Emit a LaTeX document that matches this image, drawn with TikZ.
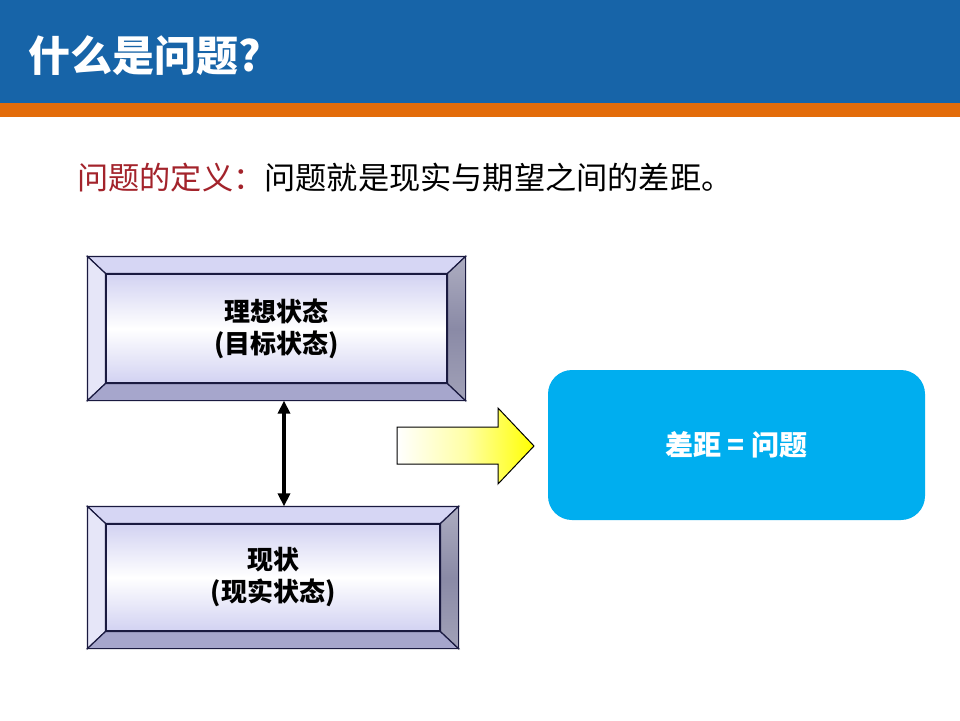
\documentclass[tikz,border=0pt]{standalone}
\usepackage{fontspec}
\setmainfont{Noto Sans CJK SC}
\usetikzlibrary{calc,arrows.meta}
\definecolor{hdrblue}{HTML}{1764A8}
\definecolor{hdrorange}{HTML}{E36C0A}
\definecolor{defred}{HTML}{A3232B}
\definecolor{gapblue}{HTML}{00AEEF}
\definecolor{bevline}{HTML}{1A1A40}
\definecolor{bevtop}{HTML}{D6D6F4}
\definecolor{bevleft}{HTML}{E6E6F8}
\definecolor{bevbot}{HTML}{A6A6CC}
\definecolor{bevright}{HTML}{8A8AA6}
\definecolor{facelav}{HTML}{D2D2F2}
\tikzset{
  face/.style={draw=bevline, line width=0.6pt, top color=facelav, bottom color=facelav, middle color=white,
    font=\bfseries\fontsize{13}{16}\selectfont, align=center, inner sep=0pt},
  bev/.style={draw=bevline, line width=0.6pt},
  gapbox/.style={fill=gapblue, rounded corners=12pt, text=white, font=\bfseries\fontsize{14}{17}\selectfont},
}
\newcommand\bevelbox[1]{%
  \coordinate (#1-onw) at ($(#1.north west)+(-18,-17)$);
  \coordinate (#1-one) at ($(#1.north east)+(18,-17)$);
  \coordinate (#1-ose) at ($(#1.south east)+(18,17)$);
  \coordinate (#1-osw) at ($(#1.south west)+(-18,17)$);
  \path[bev, fill=bevtop] (#1-onw) -- (#1-one) -- (#1.north east) -- (#1.north west) -- cycle;
  \path[bev, fill=bevleft] (#1-onw) -- (#1.north west) -- (#1.south west) -- (#1-osw) -- cycle;
  \path[bev, fill=bevbot] (#1-osw) -- (#1.south west) -- (#1.south east) -- (#1-ose) -- cycle;
  \shade[bev, top color=bevright!70!white, bottom color=bevright!80!white, middle color=bevright] (#1-one) -- (#1-ose) -- (#1.south east) -- (#1.north east) -- cycle;
}
\begin{document}
\begin{tikzpicture}[x=0.5pt,y=-0.5pt]
\useasboundingbox (0,0) rectangle (960,720);
\fill[white] (0,0) rectangle (960,720);
% header
\fill[hdrblue] (0,0) rectangle (960,103);
\fill[hdrorange] (0,103) rectangle (960,117);
\node[anchor=west, text=white, font=\bfseries\fontsize{21}{25}\selectfont, inner sep=0pt] (title) at (28,56) {什么是问题?};
% definition
\node[anchor=west, inner sep=0pt, font=\fontsize{15.6}{18}\selectfont] (def) at (77,178) {\textcolor{defred}{问题的定义：}问题就是现实与期望之间的差距。};
% ideal box
\node[face, minimum width=170.5pt, minimum height=54.5pt] (ideal) at (276.5,328.5) {理想状态\\(目标状态)};
\bevelbox{ideal}
% current box
\node[face, minimum width=167pt, minimum height=53.5pt] (current) at (273,577.5) {现状\\(现实状态)};
\bevelbox{current}
% double arrow
\coordinate (ax) at (284,0);
\draw[line width=1.6pt, {Triangle[width=6pt,length=6.5pt]}-{Triangle[width=6pt,length=6.5pt]}] (ideal-osw -| ax) -- (current-onw -| ax);
% yellow arrow
\shade[draw=black, line width=0.5pt, left color=white, right color=yellow, middle color=yellow!35!white]
  (397,427) -- (498,427) -- (498,408) -- (534,446) -- (498,484) -- (498,464) -- (397,464) -- cycle;
% gap box
\node[gapbox, minimum width=188.5pt, minimum height=75pt] (gap) at (736.5,445) {差距 = 问题};
\end{tikzpicture}
\end{document}
